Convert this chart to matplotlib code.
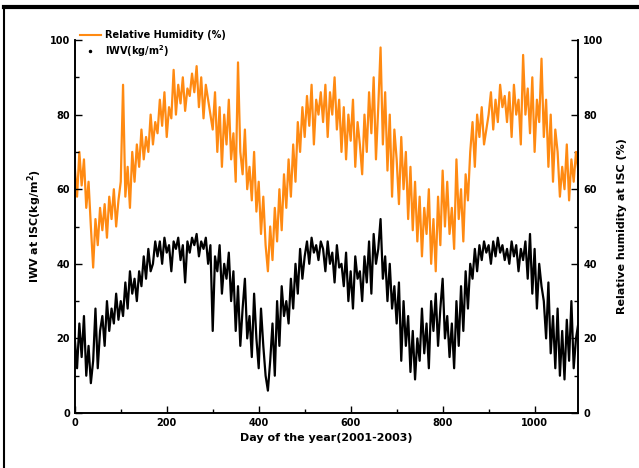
"""
IWV and relative humidity at ISC, 2001-2003 (5-day samples read off the figure).
"""
import numpy as np
import matplotlib
matplotlib.use("Agg")
from matplotlib import pyplot as plt
from matplotlib.lines import Line2D

# day of the series, every 5 days
days = np.arange(0, 1096, 5)

# relative humidity (%), right axis
rh = [
    66, 58, 70, 61, 68, 55, 62, 50,
    39, 52, 45, 55,
    49, 56, 47, 58, 52, 60, 50, 57,
    62, 88, 58, 66, 55, 70, 62, 72,
    66, 76, 68, 74, 70, 80, 72, 78,
    75, 84, 77, 86, 74, 82, 79, 92,
    80, 88, 83, 90, 81, 87, 85, 91,
    86, 93, 82, 90, 79, 88, 84, 80,
    76, 86, 70, 82, 66, 80, 72, 84,
    68, 75, 62, 94, 70, 64, 76, 60,
    66, 57, 70, 54, 62, 48, 58, 45,
    38, 50, 41, 55, 46, 60, 49, 64,
    55, 68, 58, 72, 62, 78, 70, 82,
    74, 85, 77, 88, 72, 84, 80, 86,
    78, 88, 74, 86, 80, 90, 76, 84,
    70, 82, 68, 80, 73, 84, 66, 78,
    72, 64, 80, 70, 86, 75, 90, 68,
    82, 98, 72, 86, 65, 80, 58, 76,
    68, 56, 74, 60, 70, 52, 66, 49,
    62, 46, 58, 42, 55, 48, 60, 40,
    52, 38, 58, 45, 65, 50, 62, 48,
    55, 44, 68, 52, 60, 46, 64, 57,
    70, 78, 66, 80, 74, 82, 72, 76,
    80, 86, 76, 84, 78, 88, 82, 85,
    78, 86, 74, 88, 80, 84, 72, 96,
    80, 87, 75, 90, 70, 84, 78, 95,
    74, 84, 66, 80, 62, 76, 70, 58,
    66, 60, 72, 57, 68, 62, 70, 65,
]

# integrated water vapour (kg/m^2), left axis
iwv = [
    20, 12, 24, 15, 26, 10, 18, 8,
    14, 28, 12, 22,
    26, 18, 30, 22, 28, 24, 32, 25,
    30, 26, 35, 28, 38, 32, 36, 30,
    38, 34, 42, 36, 44, 38, 40, 46,
    42, 46, 40, 47, 43, 45, 38, 46,
    44, 47, 41, 45, 35, 46, 43, 47,
    45, 48, 42, 46, 44, 47, 40, 45,
    22, 42, 38, 45, 32, 40, 36, 43,
    30, 38, 22, 34, 18, 28, 36, 20,
    26, 15, 32, 20, 12, 28, 18, 10,
    6, 14, 24, 10, 30, 18, 34, 26,
    30, 24, 36, 28, 40, 32, 44, 36,
    42, 46, 40, 47, 43, 45, 41, 46,
    44, 38, 46, 40, 43, 35, 45, 39,
    40, 34, 43, 30, 38, 28, 42, 36,
    38, 30, 42, 35, 46, 32, 48, 40,
    44, 52, 36, 42, 30, 40, 28, 34,
    24, 35, 14, 30, 18, 26, 11, 22,
    9, 20, 14, 28, 16, 24, 12, 30,
    22, 32, 18, 28, 36, 20, 26, 15,
    24, 12, 30, 18, 34, 22, 38, 28,
    40, 36, 44, 38, 45, 41, 46, 43,
    45, 40, 46, 42, 47, 43, 45, 41,
    44, 40, 46, 42, 45, 38, 44, 41,
    46, 36, 48, 32, 44, 28, 40, 34,
    30, 20, 35, 16, 26, 12, 28, 10,
    22, 9, 25, 14, 30, 12, 20, 24,
]

x_ticks = [0, 200, 400, 600, 800, 1000]
y_ticks = [0, 20, 40, 60, 80, 100]

ORANGE = "#ff8a12"

plt.rcParams.update({
    'font.family': 'DejaVu Sans',
    'font.weight': 'bold',
    'xtick.labelsize': 7,
    'ytick.labelsize': 7,
})

fig = plt.figure(figsize=(6.39, 4.68), dpi=100)
ax1 = fig.add_axes([0.117, 0.1175, 0.788, 0.797])
ax2 = ax1.twinx()

ax2.plot(days, rh, color=ORANGE, lw=1.6, zorder=2)
ax1.plot(days, iwv, color='black', lw=1.6, zorder=3)
ax1.set_zorder(ax2.get_zorder() + 1)
ax1.patch.set_visible(False)

for ax in (ax1, ax2):
    ax.set_xlim(0, 1095)
    ax.set_ylim(0, 100)
    ax.set_yticks(y_ticks)
    ax.set_yticks(np.arange(10, 100, 20), minor=True)
    ax.spines['top'].set_visible(False)
    for s in ('left', 'right', 'bottom'):
        ax.spines[s].set_linewidth(1.2)
    ax.tick_params(which='both', direction='in', width=1.0)
    ax.tick_params(which='major', length=5)
    ax.tick_params(which='minor', length=3)

ax1.set_xticks(x_ticks)
ax1.set_xticks(np.arange(100, 1100, 200), minor=True)

ax1.set_xlabel('Day of the year(2001-2003)', fontsize=8, fontweight='bold')
ax1.set_ylabel('IWV at ISC(kg/m$^2$)', fontsize=8, fontweight='bold')
ax2.set_ylabel('Relative humidity at ISC (%)', fontsize=8, fontweight='bold',
               rotation=90, labelpad=10)

handles = [
    Line2D([], [], color=ORANGE, lw=1.5),
    Line2D([], [], color='black', ls='none', marker='.', markersize=3),
]
ax1.legend(handles, ['Relative Humidity (%)', 'IWV(kg/m$^2$)'],
           loc='upper left', bbox_to_anchor=(0.0, 1.04), frameon=False,
           fontsize=7, handlelength=2.2, handletextpad=0.4, labelspacing=0.3,
           borderaxespad=0.1)

# frame lines round the picture (top and left only)
fig.add_artist(Line2D([0.006, 1.0], [0.985, 0.985], color='black', lw=3,
                      transform=fig.transFigure))
fig.add_artist(Line2D([0.007, 0.007], [0.0, 0.985], color='black', lw=1.5,
                      transform=fig.transFigure))

fig.savefig('out.png', dpi=100)
